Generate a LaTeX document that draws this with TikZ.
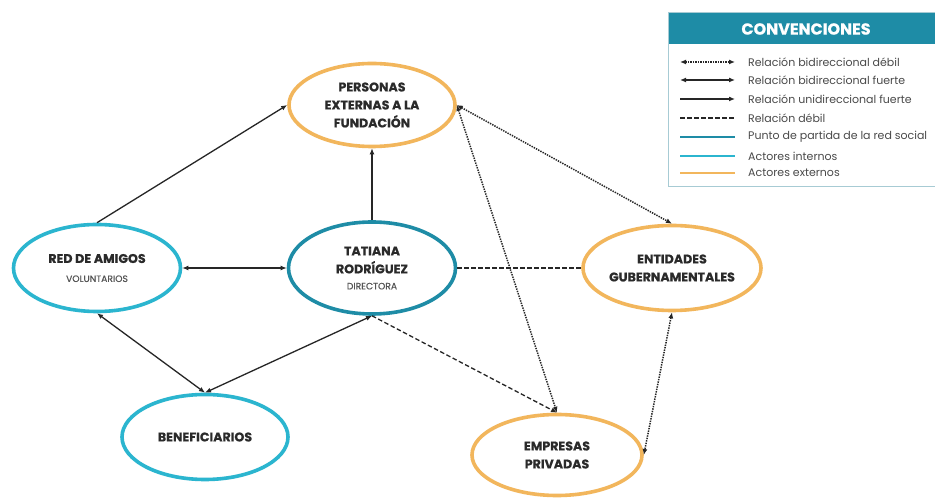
\documentclass[tikz,border=0pt]{standalone}
\usepackage{fontspec}
\setmainfont{Poppins}
\usetikzlibrary{shapes.geometric,arrows.meta}
\definecolor{orng}{HTML}{F2B65C}
\definecolor{tealdk}{HTML}{1E8CA6}
\definecolor{cyanl}{HTML}{2BB5CF}
\definecolor{txt}{HTML}{2A2A2A}
\definecolor{subtxt}{HTML}{555555}
\definecolor{legbd}{HTML}{A7CBD4}
\newcommand{\heavyfont}[2]{\bfseries\fontsize{#1}{#2}\selectfont\addfontfeature{FakeBold=0.6}}
\tikzset{
  actor/.style={ellipse, draw, line width=3.6pt, inner sep=0pt, align=center, text=txt,
    font=\heavyfont{12.6}{18}},
  ext/.style={actor, draw=orng},
  int/.style={actor, draw=cyanl},
  start/.style={actor, draw=tealdk},
  conn/.style={line width=1.3pt, draw=black!85},
  uni/.style={conn, -{Latex[length=6pt,width=5pt]}},
  bi/.style={conn, {Latex[length=6pt,width=5pt]}-{Latex[length=6pt,width=5pt]}},
  weakbi/.style={conn, line width=1.5pt, dash pattern=on 1.4pt off 1.1pt, {Latex[length=6pt,width=5pt]}-{Latex[length=6pt,width=5pt]}},
  weak/.style={conn, dash pattern=on 4.5pt off 2.5pt},
  legline/.style={line width=2.6pt},
  legtext/.style={anchor=west, inner sep=0pt, text=txt!85, font=\fontsize{11}{12}\selectfont},
  subfont/.style={}
}
\newcommand{\subline}[1]{{\mdseries\color{subtxt}\fontsize{9.2}{10}\selectfont #1}}
\begin{document}
\begin{tikzpicture}[x=1pt,y=1pt]
\useasboundingbox (0,0) rectangle (935,498);
\fill[white] (0,0) rectangle (935,498);

% actors
\node[ext, minimum width=166pt, minimum height=83pt] (pers) at (372,393)
  {PERSONAS\\EXTERNAS A LA\\FUNDACIÓN};
\node[start, minimum width=167pt, minimum height=92pt] (tat) at (372,230)
  {TATIANA\\RODRÍGUEZ\\[-2pt]\subline{DIRECTORA}};
\node[int, minimum width=167pt, minimum height=87pt] (red) at (97,230)
  {RED DE AMIGOS\\[1pt]\subline{VOLUNTARIOS}};
\node[ext, minimum width=178pt, minimum height=85pt] (ent) at (672,230)
  {ENTIDADES\\GUBERNAMENTALES};
\node[int, minimum width=166pt, minimum height=85pt] (ben) at (205,61)
  {BENEFICIARIOS};
\node[ext, minimum width=170pt, minimum height=81pt] (emp) at (557,43)
  {EMPRESAS\\PRIVADAS};

% connectors
\draw[uni] (red.north) -- (pers.west);
\draw[uni] (tat.north) -- (pers.south);
\draw[bi] (red.east) -- (tat.west);
\draw[bi] (red.south) -- (ben.north);
\draw[bi] (ben.north) -- (tat.south);
\draw[weak] (tat.east) -- (ent.west);
\draw[weak, -{Latex[length=6pt,width=5pt]}] (tat.south) -- (emp.north);
\draw[weakbi] (pers.east) -- (ent.north);
\draw[weakbi] (pers.east) -- (emp.north);
\draw[weakbi] (ent.south) -- (emp.east);

% legend
\coordinate (lgA) at (668,485);
\coordinate (lgB) at (936,311);
\coordinate (lgH) at (936,454);
\fill[tealdk] (lgA) rectangle (lgH);
\draw[legbd, line width=1pt] (lgA) rectangle (lgB);
\node[text=white, font=\heavyfont{16}{18}] (lgtitle) at (806,469) {CONVENCIONES};

\foreach \i/\y in {1/436,2/418,3/399,4/380,5/361,6/342,7/325}{
  \coordinate (la\i) at (680,\y);
  \coordinate (lb\i) at (735,\y);
  \coordinate (lt\i) at (748,\y);
}
\draw[weakbi, line width=1.2pt] (la1) -- (lb1);
\draw[bi, line width=1.2pt] (la2) -- (lb2);
\draw[uni, line width=1.2pt] (la3) -- (lb3);
\draw[weak, line width=1.2pt] (la4) -- (lb4);
\draw[legline, tealdk] (la5) -- (lb5);
\draw[legline, cyanl] (la6) -- (lb6);
\draw[legline, orng] (la7) -- (lb7);
\node[legtext] (t1) at (lt1) {Relación bidireccional débil};
\node[legtext] (t2) at (lt2) {Relación bidireccional fuerte};
\node[legtext] (t3) at (lt3) {Relación unidireccional fuerte};
\node[legtext] (t4) at (lt4) {Relación débil};
\node[legtext] (t5) at (lt5) {Punto de partida de la red social};
\node[legtext] (t6) at (lt6) {Actores internos};
\node[legtext] (t7) at (lt7) {Actores externos};
\end{tikzpicture}
\end{document}
